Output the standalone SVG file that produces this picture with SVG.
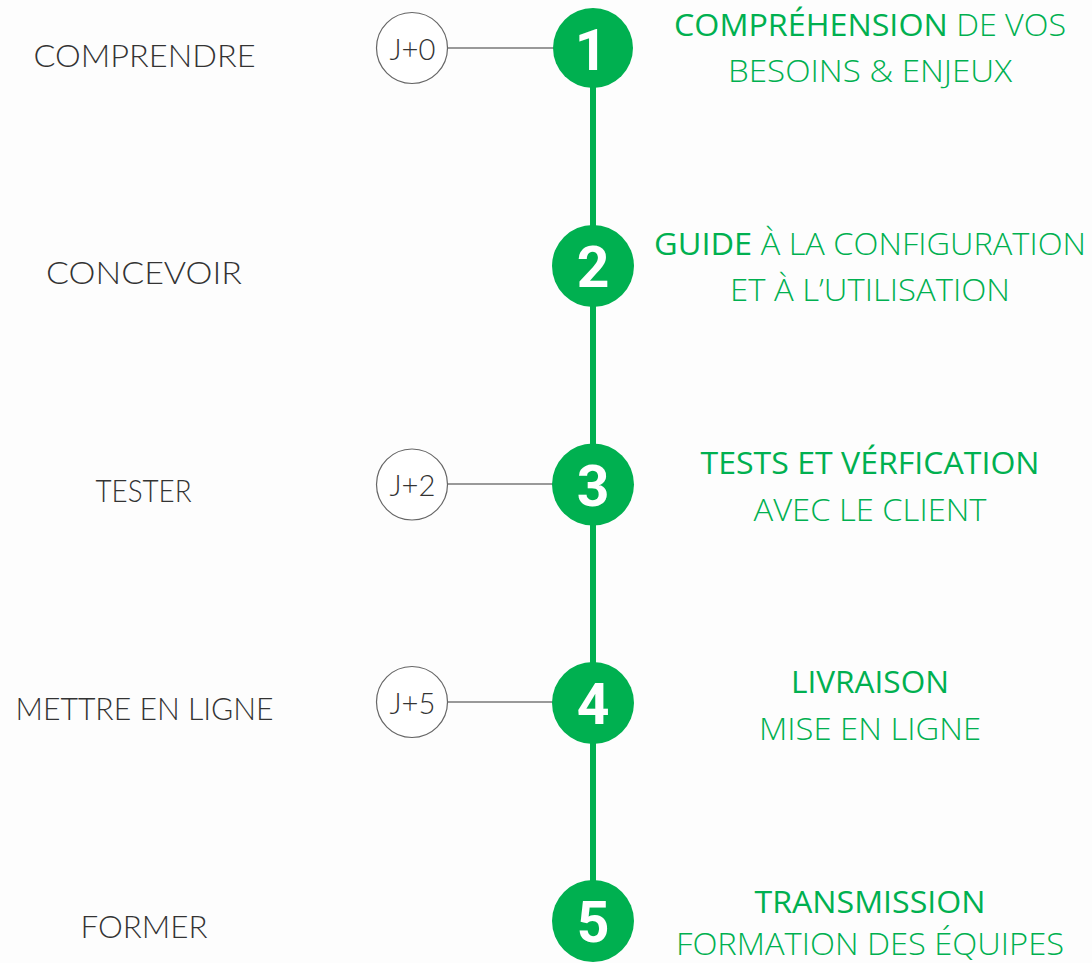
<svg xmlns="http://www.w3.org/2000/svg" width="1092" height="963" viewBox="0 0 1092 963">
<style>
.step{fill:#00b050}
.num{fill:#fff;font:700 57px Roboto,"Liberation Sans",sans-serif;text-anchor:middle}
.day{fill:#fff;stroke:#666;stroke-width:1.2}
.dayt{fill:#333;font:300 30px Lato,"Liberation Sans",sans-serif;text-anchor:middle}
.left{fill:#333;font:300 32px Lato,"Liberation Sans",sans-serif;text-anchor:middle}
.r{fill:#00b050;font:300 31px "Open Sans","Liberation Sans",sans-serif;text-anchor:middle}
.b{font-weight:400}
.tick{stroke:#777;stroke-width:1.4}
.spine{stroke:#00b050;stroke-width:6}
</style>
<rect width="1092" height="963" fill="#fdfdfd"/>
<g id="connectors">
<line class="spine" x1="593" y1="48" x2="593" y2="921"/>
<line class="tick" x1="447" y1="48" x2="554" y2="48"/>
<line class="tick" x1="447" y1="484" x2="553" y2="484"/>
<line class="tick" x1="447" y1="702" x2="553" y2="702"/>
</g>
<g id="node-1"><circle class="step" cx="593" cy="48" r="40"/><text class="num" x="591" y="70">1</text>
<text class="left" x="144.500" y="66.500" textLength="222" lengthAdjust="spacingAndGlyphs">COMPRENDRE</text>
<circle class="day" cx="412" cy="48" r="35.500"/><text class="dayt" x="412.500" y="59.500" textLength="46" lengthAdjust="spacingAndGlyphs">J+0</text>
<text class="r" x="870" y="36" textLength="392" lengthAdjust="spacingAndGlyphs"><tspan class="b">COMPRÉHENSION</tspan> DE VOS</text>
<text class="r" x="870" y="81.500" textLength="284" lengthAdjust="spacingAndGlyphs">BESOINS &amp; ENJEUX</text></g>
<g id="node-2"><circle class="step" cx="593" cy="266" r="41"/><text class="num" x="593" y="287">2</text>
<text class="left" x="144" y="283.500" textLength="196" lengthAdjust="spacingAndGlyphs">CONCEVOIR</text>
<text class="r" x="870" y="255" textLength="432" lengthAdjust="spacingAndGlyphs"><tspan class="b">GUIDE</tspan> À LA CONFIGURATION</text>
<text class="r" x="870" y="300.500" textLength="280" lengthAdjust="spacingAndGlyphs">ET À L’UTILISATION</text></g>
<g id="node-3"><circle class="step" cx="593" cy="484.500" r="41"/><text class="num" x="593" y="506">3</text>
<text class="left" x="143.500" y="502" textLength="96" lengthAdjust="spacingAndGlyphs">TESTER</text>
<circle class="day" cx="412" cy="484.500" r="35.500"/><text class="dayt" x="412.500" y="496" textLength="46" lengthAdjust="spacingAndGlyphs">J+2</text>
<text class="r" x="870" y="474" textLength="339" lengthAdjust="spacingAndGlyphs"><tspan class="b">TESTS ET VÉRFICATION</tspan></text>
<text class="r" x="870" y="520.500" textLength="233" lengthAdjust="spacingAndGlyphs">AVEC LE CLIENT</text></g>
<g id="node-4"><circle class="step" cx="593" cy="703" r="41"/><text class="num" x="593" y="724">4</text>
<text class="left" x="144.500" y="720" textLength="258" lengthAdjust="spacingAndGlyphs">METTRE EN LIGNE</text>
<circle class="day" cx="412" cy="702" r="35.500"/><text class="dayt" x="412.500" y="714" textLength="46" lengthAdjust="spacingAndGlyphs">J+5</text>
<text class="r" x="870" y="693" textLength="158" lengthAdjust="spacingAndGlyphs"><tspan class="b">LIVRAISON</tspan></text>
<text class="r" x="870" y="739.500" textLength="222" lengthAdjust="spacingAndGlyphs">MISE EN LIGNE</text></g>
<g id="node-5"><circle class="step" cx="593" cy="921" r="41"/><text class="num" x="593" y="942">5</text>
<text class="left" x="144" y="938" textLength="127" lengthAdjust="spacingAndGlyphs">FORMER</text>
<text class="r" x="870" y="913" textLength="231" lengthAdjust="spacingAndGlyphs"><tspan class="b">TRANSMISSION</tspan></text>
<text class="r" x="870" y="955" textLength="388" lengthAdjust="spacingAndGlyphs">FORMATION DES ÉQUIPES</text></g>
</svg>
